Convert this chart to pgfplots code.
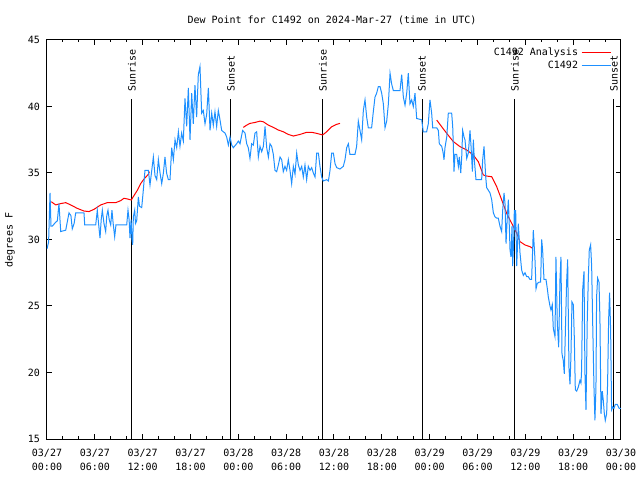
\documentclass[border=0pt]{standalone}
\usepackage{pgfplots}
\pgfplotsset{compat=1.18}
\usepackage{fontspec}
\setmainfont{DejaVu Sans Mono}
\definecolor{obsblue}{RGB}{30,144,255}
\newcommand{\gfont}{\fontsize{10bp}{12bp}\selectfont}
\begin{document}
\begin{tikzpicture}[font=\gfont]
\useasboundingbox (0,0) rectangle (640bp,480bp);
\begin{axis}[
  at={(47bp,41bp)}, anchor=south west,
  scale only axis, width=574bp, height=399bp,
  xmin=0, xmax=72, ymin=15, ymax=45,
  xtick={0,6,...,72},
  minor x tick num=2,
  ytick={15,20,25,30,35,40,45},
  yticklabels={15,20,25,30,35,40,45},
  xticklabels={{03/27\\[2bp]00:00},{03/27\\[2bp]06:00},{03/27\\[2bp]12:00},{03/27\\[2bp]18:00},{03/28\\[2bp]00:00},{03/28\\[2bp]06:00},{03/28\\[2bp]12:00},{03/28\\[2bp]18:00},{03/29\\[2bp]00:00},{03/29\\[2bp]06:00},{03/29\\[2bp]12:00},{03/29\\[2bp]18:00},{03/30\\[2bp]00:00}},
  tick align=inside,
  major tick length=5bp, minor tick length=2.5bp,
  tick style={black, line width=1bp},
  axis line style={line width=1bp},
  xticklabel style={align=center, font=\gfont, inner sep=0pt, yshift=-10bp},
  yticklabel style={font=\gfont, inner sep=0pt, xshift=-7bp},
  legend plot pos=right,
  legend cell align=right,
  legend image code/.code={\draw[#1] (0bp,0bp) -- (29bp,0bp);},
  legend style={draw=none, fill=none, at={(rel axis cs:0.983,0.985)}, anchor=north east,
    font=\gfont, row sep=0pt, inner sep=0pt, column sep=1.5bp,
    nodes={inner sep=1.5bp, text height=7.5bp, text depth=2.5bp}},
]
% sunrise / sunset
\addplot[black, line width=1bp, forget plot] coordinates {(10.66,15) (10.66,40.55)};
\addplot[black, line width=1bp, forget plot] coordinates {(23.08,15) (23.08,40.55)};
\addplot[black, line width=1bp, forget plot] coordinates {(34.62,15) (34.62,40.55)};
\addplot[black, line width=1bp, forget plot] coordinates {(47.04,15) (47.04,40.55)};
\addplot[black, line width=1bp, forget plot] coordinates {(58.70,15) (58.70,40.55)};
\addplot[black, line width=1bp, forget plot] coordinates {(71.12,15) (71.12,40.55)};
\node[rotate=90, anchor=west, inner sep=0pt, font=\gfont] at (axis cs:10.66,41.1) {Sunrise};
\node[rotate=90, anchor=west, inner sep=0pt, font=\gfont] at (axis cs:23.08,41.1) {Sunset};
\node[rotate=90, anchor=west, inner sep=0pt, font=\gfont] at (axis cs:34.62,41.1) {Sunrise};
\node[rotate=90, anchor=west, inner sep=0pt, font=\gfont] at (axis cs:47.04,41.1) {Sunset};
\node[rotate=90, anchor=west, inner sep=0pt, font=\gfont] at (axis cs:58.70,41.1) {Sunrise};
\node[rotate=90, anchor=west, inner sep=0pt, font=\gfont] at (axis cs:71.12,41.1) {Sunset};
% analysis
\addplot[red, line width=1bp] table {
0.54 32.84
1.09 32.6
1.72 32.7
2.35 32.77
2.97 32.6
3.80 32.34
4.64 32.14
5.27 32.1
5.90 32.27
6.74 32.6
7.56 32.77
8.62 32.77
9.24 32.92
9.66 33.1
10.07 33.05
10.57 32.97
10.91 33.3
11.33 33.7
11.75 34.2
12.17 34.55
12.71 34.9
12.85 35.1
};
\addlegendentry{C1492 Analysis}
\addplot[red, line width=1bp, forget plot] table {
24.62 38.43
25.05 38.6
25.46 38.73
26.09 38.8
26.72 38.9
27.14 38.85
27.77 38.6
28.39 38.43
29.02 38.23
29.64 38.1
30.27 37.9
30.90 37.78
31.74 37.9
32.57 38.06
33.20 38.06
33.83 37.98
34.58 37.86
35.08 38.1
35.71 38.48
36.34 38.66
36.75 38.73
};
\addplot[red, line width=1bp, forget plot] table {
48.88 38.98
50.14 37.98
50.97 37.36
51.81 36.98
52.65 36.73
53.48 36.35
54.10 35.85
54.73 34.85
55.15 34.77
55.78 34.72
56.41 33.97
57.04 32.97
57.66 31.97
58.29 31.22
58.92 30.47
59.33 29.84
59.96 29.59
60.59 29.46
60.88 29.35
};
% observations
\addplot[obsblue, line width=1bp] table {
0.00 29.3
0.20 29.8
0.38 33.5
0.50 31.0
0.66 31.0
1.09 31.3
1.30 31.4
1.50 32.7
1.72 30.6
2.35 30.7
2.60 31.5
2.76 32.0
3.00 31.8
3.17 30.8
3.40 31.2
3.60 32.0
4.64 32.0
4.73 31.1
6.11 31.1
6.31 32.2
6.50 31.0
6.65 30.1
6.80 31.5
6.94 32.2
7.15 31.2
7.36 30.6
7.50 31.8
7.65 32.2
7.80 31.5
7.99 31.1
8.15 32.2
8.30 31.2
8.49 30.2
8.65 31.1
8.82 31.1
10.00 31.1
10.16 32.2
10.30 31.5
10.41 30.1
10.55 31.5
10.66 30.0
10.75 29.6
10.83 31.7
11.00 32.2
11.10 31.2
11.25 31.4
11.46 33.2
11.60 32.5
11.88 32.4
12.05 33.5
12.29 35.2
12.71 35.2
12.92 34.1
13.34 36.2
13.55 34.8
13.76 34.5
13.97 36.0
14.18 35.0
14.39 34.2
14.60 35.0
14.80 36.2
15.00 35.0
15.22 34.5
15.43 34.5
15.64 36.9
15.85 36.0
16.06 37.5
16.27 36.9
16.48 38.1
16.68 37.0
16.89 38.0
17.10 37.4
17.31 40.6
17.52 38.5
17.73 41.4
17.94 37.5
18.15 41.0
18.35 38.7
18.56 41.6
18.77 39.2
18.98 42.4
19.19 43.0
19.40 39.5
19.61 39.7
19.82 38.7
20.03 39.4
20.24 41.4
20.45 38.2
20.66 39.5
20.86 38.6
21.07 39.6
21.28 38.5
21.49 39.7
21.70 39.0
21.91 38.2
22.12 38.1
22.33 38.0
22.54 37.7
22.75 37.1
22.96 37.7
23.17 37.1
23.37 36.9
23.79 37.2
24.00 37.4
24.21 37.2
24.54 38.2
24.84 38.0
25.05 37.2
25.25 36.9
25.46 36.1
25.67 37.2
25.88 37.1
26.09 38.0
26.30 38.1
26.51 36.2
26.72 37.0
26.93 36.6
27.14 37.0
27.35 38.5
27.56 36.9
27.77 36.2
27.97 37.2
28.18 37.0
28.39 36.4
28.60 35.2
28.81 35.1
29.02 35.6
29.23 36.2
29.44 36.0
29.64 35.1
29.85 35.5
30.06 35.2
30.27 36.0
30.48 35.2
30.69 34.2
30.90 35.5
31.11 34.9
31.32 36.5
31.53 35.6
31.74 35.2
31.95 35.5
32.15 34.7
32.36 35.6
32.57 34.5
32.78 35.5
32.99 35.2
33.20 35.4
33.41 35.0
33.62 34.7
33.75 35.8
33.83 36.5
34.04 36.5
34.24 35.5
34.45 34.7
34.66 34.4
35.08 34.5
35.30 34.4
35.50 35.2
35.71 36.5
35.92 36.5
36.13 35.7
36.34 35.4
36.75 35.3
37.17 35.5
37.38 36.0
37.59 36.9
37.80 37.2
38.00 36.4
38.63 36.4
38.84 37.0
39.05 38.9
39.26 38.2
39.47 37.5
39.68 39.7
39.89 40.5
40.10 39.2
40.30 38.4
40.72 38.4
40.93 39.6
41.14 40.7
41.35 41.0
41.56 41.5
41.77 41.5
41.98 41.0
42.19 40.2
42.40 38.4
42.61 38.9
42.82 40.2
43.03 42.5
43.23 41.7
43.44 41.2
44.28 41.2
44.49 42.4
44.70 40.7
44.91 40.1
45.12 41.0
45.32 42.5
45.53 40.2
45.74 40.5
45.95 40.0
46.16 41.0
46.37 39.1
47.00 39.0
47.20 38.1
47.62 38.1
47.83 38.7
48.04 40.5
48.25 39.5
48.38 38.4
48.88 38.4
49.09 38.2
49.21 37.2
49.51 37.0
49.63 36.7
49.72 36.4
49.80 36.0
49.92 36.9
50.14 37.7
50.34 39.5
50.76 39.5
50.89 38.5
50.97 37.0
51.05 35.1
51.18 36.4
51.39 36.4
51.60 35.5
51.72 36.2
51.90 35.0
52.02 36.2
52.14 38.2
52.31 37.7
52.43 37.5
52.65 36.1
52.85 36.5
53.06 38.2
53.19 37.0
53.36 35.1
53.48 37.5
53.60 36.0
53.81 34.5
54.52 34.5
54.65 36.0
54.82 37.0
55.03 34.7
55.15 33.9
55.36 33.7
55.57 33.5
55.78 33.0
55.99 32.0
56.20 31.7
56.41 31.6
56.61 31.6
56.82 31.0
57.03 30.6
57.16 32.2
57.33 33.5
57.45 32.7
57.58 29.7
57.74 31.7
57.87 33.0
57.99 31.0
58.08 29.2
58.20 28.7
58.33 31.0
58.41 28.0
58.54 30.0
58.62 32.2
58.71 30.7
58.79 32.2
58.92 28.0
59.12 31.2
59.33 29.0
59.54 27.7
59.75 27.3
59.96 27.5
60.17 27.2
60.37 27.2
60.58 27.0
60.79 27.0
61.00 30.7
61.21 28.5
61.34 26.3
61.50 26.7
61.75 26.8
61.92 26.8
62.05 30.0
62.17 29.2
62.34 27.0
62.59 27.0
62.76 26.3
62.88 25.7
63.09 25.0
63.22 24.7
63.38 25.1
63.51 23.3
63.72 22.7
63.84 28.7
64.01 23.7
64.18 21.9
64.35 27.1
64.47 28.7
64.60 21.4
64.76 20.9
64.89 19.9
65.06 24.0
65.18 26.8
65.31 28.5
65.47 20.4
65.60 19.1
65.72 21.2
65.85 25.3
66.02 25.1
66.14 22.7
66.27 18.7
66.44 18.6
66.64 18.9
66.85 19.4
66.98 19.2
67.06 20.2
67.19 26.2
67.36 27.6
67.48 19.9
67.61 17.2
67.77 24.0
67.90 27.0
68.02 29.2
68.19 29.6
68.32 28.0
68.44 24.0
68.61 18.9
68.73 16.4
68.86 18.9
68.94 25.7
69.07 27.1
69.24 26.8
69.36 24.0
69.49 16.9
69.65 18.6
69.78 17.9
69.91 16.9
70.03 16.4
70.20 16.9
70.32 19.2
70.45 24.0
70.57 26.0
70.70 23.2
70.82 17.2
70.95 17.4
71.12 17.3
71.28 17.6
71.53 17.6
71.78 17.3
72.00 17.3
};
\addlegendentry{C1492}
\end{axis}
\node[font=\gfont] at (332bp,460bp) {Dew Point for C1492 on 2024-Mar-27 (time in UTC)};
\node[font=\gfont, rotate=90] at (10bp,240bp) {degrees F};
\end{tikzpicture}
\end{document}
